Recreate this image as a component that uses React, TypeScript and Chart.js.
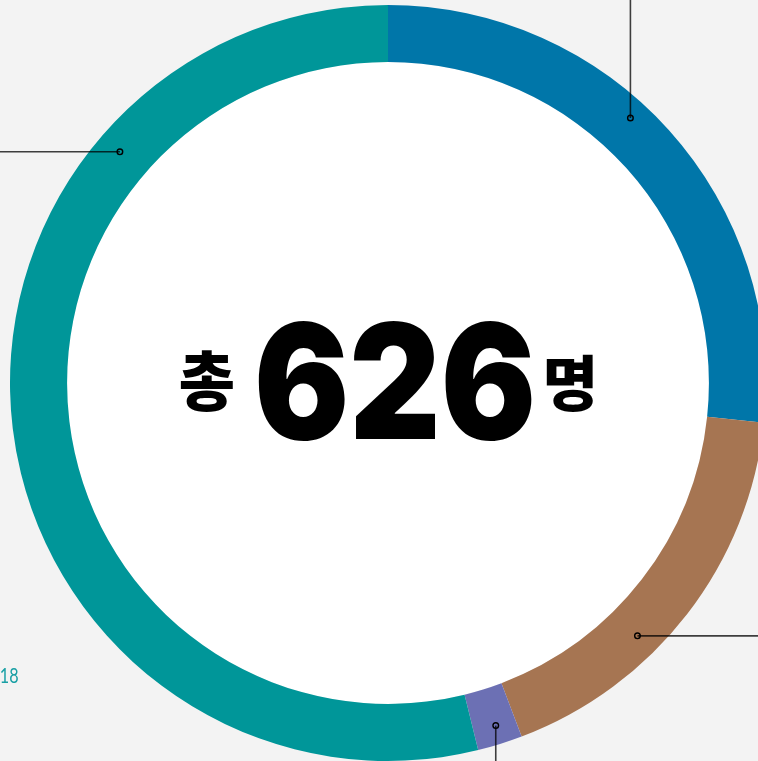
import React, { useEffect, useRef } from 'react';
import { Chart, registerables } from 'chart.js';

Chart.register(...registerables);

// ---- data ----
const categories = ['구분 1', '구분 2', '구분 3', '구분 4'];
const values = [167, 110, 12, 337];
const colors = ['#0076A9', '#A67552', '#6C70B4', '#009699'];
const totalPrefix = '총';
const totalSuffix = '명';
const pageNumber = '18';

// ---- callout decoration (per segment) ----
const CALLOUT_DIR = ['up', 'right', 'down', 'left'];
const CALLOUT_ALONG = [0.442, 0.622, 0.47, 0.746];
const CALLOUT_DEPTH = [0.67, 0.6, 0.67, 0.58];

function drawFit(ctx: CanvasRenderingContext2D, text: string, font: string, color: string, left: number, top: number, w: number, h: number) {
  ctx.save();
  ctx.font = font;
  ctx.textAlign = 'left';
  ctx.textBaseline = 'alphabetic';
  const m = ctx.measureText(text);
  const mw = m.actualBoundingBoxLeft + m.actualBoundingBoxRight;
  const mh = m.actualBoundingBoxAscent + m.actualBoundingBoxDescent;
  ctx.translate(left, top);
  ctx.scale(w / mw, h / mh);
  ctx.fillStyle = color;
  ctx.fillText(text, m.actualBoundingBoxLeft, m.actualBoundingBoxAscent);
  ctx.restore();
}

const decorPlugin = {
  id: 'decor',
  beforeDatasetsDraw(chart: any) {
    const ctx = chart.ctx as CanvasRenderingContext2D;
    const arc = chart.getDatasetMeta(0).data[0];
    if (!arc) return;
    const p = arc.getProps(['x', 'y', 'innerRadius'], true);
    ctx.save();
    ctx.fillStyle = '#ffffff';
    ctx.beginPath();
    ctx.arc(p.x, p.y, p.innerRadius, 0, Math.PI * 2);
    ctx.fill();
    ctx.restore();
  },
  afterDatasetsDraw(chart: any) {
    const ctx = chart.ctx as CanvasRenderingContext2D;
    const meta = chart.getDatasetMeta(0);
    const W = chart.width;
    const H = chart.height;
    let cx = 0, cy = 0;
    meta.data.forEach((el: any, i: number) => {
      const p = el.getProps(['x', 'y', 'startAngle', 'endAngle', 'innerRadius', 'outerRadius'], true);
      cx = p.x; cy = p.y;
      const a = p.startAngle + CALLOUT_ALONG[i] * (p.endAngle - p.startAngle);
      const r = p.innerRadius + CALLOUT_DEPTH[i] * (p.outerRadius - p.innerRadius);
      const px = p.x + r * Math.cos(a);
      const py = p.y + r * Math.sin(a);
      let ex = px, ey = py;
      const d = CALLOUT_DIR[i];
      if (d === 'up') ey = 0;
      else if (d === 'down') ey = H;
      else if (d === 'left') ex = 0;
      else ex = W;
      ctx.save();
      ctx.strokeStyle = 'rgba(0,0,0,0.75)';
      ctx.lineWidth = 1.6;
      ctx.beginPath();
      ctx.moveTo(px, py);
      ctx.lineTo(ex, ey);
      ctx.stroke();
      ctx.strokeStyle = '#000';
      ctx.lineWidth = 1.4;
      ctx.beginPath();
      ctx.arc(px, py, 2.8, 0, Math.PI * 2);
      ctx.stroke();
      ctx.restore();
    });

    const total = String(values.reduce((s, v) => s + v, 0));
    drawFit(ctx, totalPrefix, '900 100px "Noto Sans CJK KR"', '#000', cx - 207.3, cy - 32.3, 52.6, 61);
    drawFit(ctx, total, '900 160px Inter, "Noto Sans", sans-serif', '#000', cx - 129.7, cy - 62.3, 273.4, 120);
    drawFit(ctx, totalSuffix, '900 100px "Noto Sans CJK KR"', '#000', cx + 158.7, cy - 28, 46.6, 56.7);

    drawFit(ctx, pageNumber, '400 22px Lato, "Noto Sans", sans-serif', '#1AA0A5', 0.5, 668, 17.5, 15);
  },
};

export default function App() {
  const ref = useRef<HTMLCanvasElement>(null);
  useEffect(() => {
    document.body.style.margin = '0';
    document.body.style.background = '#f3f3f3';
    const canvas = ref.current;
    if (!canvas) return;
    const chart = new Chart(canvas, {
      type: 'doughnut',
      data: {
        labels: categories,
        datasets: [
          {
            data: values,
            backgroundColor: colors,
            borderWidth: 0,
          },
        ],
      },
      options: {
        responsive: false,
        animation: false,
        cutout: '84.9%',
        layout: { padding: 5 },
        plugins: {
          legend: { display: false },
          tooltip: { enabled: false },
        },
      },
      plugins: [decorPlugin],
    });
    return () => chart.destroy();
  }, []);
  return (
    <div
      style={{
        position: 'fixed',
        left: 0,
        top: 0,
        width: 758,
        height: 761,
        overflow: 'hidden',
        background: '#f3f3f3',
      }}
    >
      <canvas ref={ref} width={776} height={766} style={{ display: 'block', width: 776, height: 766 }} />
    </div>
  );
}
